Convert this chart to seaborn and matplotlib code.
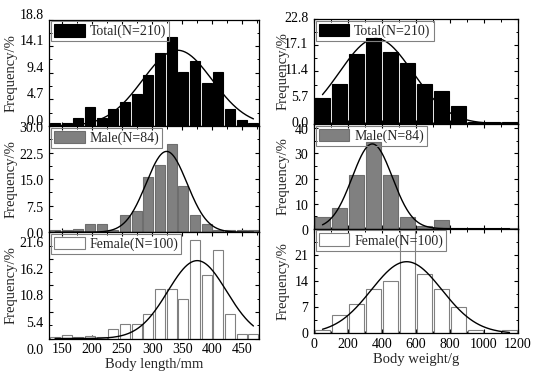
import numpy as np
import pandas as pd
import matplotlib
matplotlib.use('Agg')
import matplotlib.pyplot as plt
import matplotlib.transforms as mtransforms
from matplotlib.patches import Patch
from matplotlib.ticker import MultipleLocator
import seaborn as sns

# histogram bins (left: body length in mm, right: body weight in g)
length_start, length_width, length_nbins = 128.5, 19.44, 18
weight_start, weight_width, weight_nbins = 0, 100, 12

# frequencies (%)
length_total = [0.5, 0.5, 1.4, 3.3, 1.4, 2.9, 4.3, 5.7, 9.0, 12.9, 15.7, 9.5, 11.4, 7.6, 9.5, 2.9, 1.0, 0.5]
length_male = [0.7, 0.7, 0.9, 2.4, 2.4, 0.6, 4.8, 6.0, 15.5, 19.0, 25.0, 13.1, 4.8, 2.4, 0.6, 0.6, 0.6, 0.6]
length_female = [0.4, 0.7, 0.4, 0.6, 0.4, 2.0, 3.0, 3.0, 5.0, 10.0, 10.0, 8.0, 20.0, 13.0, 18.0, 5.0, 1.0, 1.0]
weight_total = [5.7, 8.6, 15.2, 18.6, 15.7, 13.3, 8.6, 7.1, 3.8, 0.5, 0.4, 0.5]
weight_male = [4.8, 8.3, 21.4, 34.5, 21.4, 4.8, 1.2, 3.6, 0.3, 0.3, 0.3, 0.3]
weight_female = [1, 5, 8, 12, 14, 28, 16, 12, 7, 1, 0, 1]

# normal fit curves (mean, sd)
length_fits = [(342, 58), (324, 34), (375, 49)]
weight_fits = [(365, 215), (343, 118), (545, 208)]

group_labels = ['Total(N=210)', 'Male(N=84)', 'Female(N=100)']
fills = ['black', '#808080', 'white']
edges = ['black', '#6e6e6e', '#808080']

length_ylims = [18.8, 30.0, 21.6]
length_yticks = [[0, 4.7, 9.4, 14.1, 18.8], [0, 7.5, 15, 22.5, 30], [0, 5.4, 10.8, 16.2, 21.6]]
weight_ylims = [22.8, 41.8, 28]
weight_yticks = [[0, 5.7, 11.4, 17.1, 22.8], [0, 10, 20, 30, 40], [0, 7, 14, 21, 28]]

sns.set_style('ticks')
plt.rcParams['font.family'] = ['Liberation Serif', 'DejaVu Serif']
plt.rcParams.update({
    'font.size': 10,
    'xtick.direction': 'in', 'ytick.direction': 'in',
    'xtick.top': True, 'ytick.right': True,
    'xtick.color': 'black', 'ytick.color': 'black',
    'axes.edgecolor': 'black', 'axes.linewidth': 0.9,
    'xtick.major.size': 3, 'ytick.major.size': 3,
    'xtick.minor.size': 1.8, 'ytick.minor.size': 1.8,
    'xtick.major.width': 0.8, 'ytick.major.width': 0.8,
    'xtick.minor.width': 0.7, 'ytick.minor.width': 0.7,
})

fig = plt.figure(figsize=(5.5, 3.8), dpi=100)

# panel rectangles in figure fractions
left_x, left_w, left_h = 0.0896, 0.3818, 0.2797
left_bottoms = [0.6689, 0.3889, 0.1092]
right_x, right_w, right_h = 0.5709, 0.3709, 0.2758
right_bottoms = [0.6742, 0.3982, 0.1224]


def draw_panel(ax, start, width, nbins, vals, fit, ylim, yticks, i, fmt):
    bin_edges = start + width * np.arange(nbins + 1)
    centers = bin_edges[:-1] + width / 2
    df = pd.DataFrame({'x': centers, 'pct': vals})
    sns.barplot(data=df, x='x', y='pct', native_scale=True, width=0.85,
                color=fills[i], saturation=1, edgecolor=edges[i],
                linewidth=0.8, errorbar=None, ax=ax)
    mu, sd = fit
    xs = np.linspace(centers[0], centers[-1], 300)
    ys = 100 * width * np.exp(-0.5 * ((xs - mu) / sd) ** 2) / (sd * np.sqrt(2 * np.pi))
    sns.lineplot(x=xs, y=ys, color='black', linewidth=1.0, ax=ax)
    ax.set_xlim(bin_edges[0], bin_edges[-1])
    ax.set_ylim(0, ylim)
    ax.set_yticks(yticks)
    ax.set_yticklabels([fmt(v) for v in yticks])
    ax.yaxis.set_minor_locator(MultipleLocator(yticks[1] / 2))
    ax.set_ylabel('Frequency/%', fontsize=10.5)
    ax.set_xlabel('')
    ax.tick_params(axis='both', which='major', labelsize=10, pad=3)
    ax.tick_params(axis='y', which='major', pad=4)
    handle = Patch(facecolor=fills[i], edgecolor=edges[i], linewidth=0.8)
    leg = ax.legend(handles=[handle], labels=[group_labels[i]], loc='upper left',
                    frameon=True, fancybox=False, edgecolor='#808080',
                    facecolor='none', framealpha=1, borderaxespad=0.12,
                    borderpad=0.22, handlelength=2.2, handleheight=1.0,
                    handletextpad=0.35, fontsize=10)
    leg.get_frame().set_linewidth(0.8)


length_sets = [length_total, length_male, length_female]
weight_sets = [weight_total, weight_male, weight_female]
length_axes = []
weight_axes = []
for i in range(3):
    ax = fig.add_axes([left_x, left_bottoms[i], left_w, left_h])
    draw_panel(ax, length_start, length_width, length_nbins, length_sets[i],
               length_fits[i], length_ylims[i], length_yticks[i], i, lambda v: f'{v:.1f}')
    ax.set_xticks([150, 200, 250, 300, 350, 400, 450])
    ax.xaxis.set_minor_locator(MultipleLocator(25))
    ax.yaxis.set_label_coords(-0.15, 0.5)
    length_axes.append(ax)

    ax = fig.add_axes([right_x, right_bottoms[i], right_w, right_h])
    fmt = (lambda v: f'{v:.1f}') if i == 0 else (lambda v: f'{v:g}')
    draw_panel(ax, weight_start, weight_width, weight_nbins, weight_sets[i],
               weight_fits[i], weight_ylims[i], weight_yticks[i], i, fmt)
    ax.set_xticks([0, 200, 400, 600, 800, 1000, 1200])
    ax.xaxis.set_minor_locator(MultipleLocator(100))
    ax.yaxis.set_label_coords(-0.118, 0.5)
    weight_axes.append(ax)

for ax in length_axes[:2] + weight_axes[:2]:
    ax.tick_params(axis='x', labelbottom=False)

# top label of the lower right panel is not shown
weight_axes[2].get_yticklabels()[-1].set_visible(False)

length_axes[2].set_xlabel('Body length/mm', fontsize=10.5, labelpad=2)
weight_axes[2].set_xlabel('Body weight/g', fontsize=10.5, labelpad=2)

# the y tick labels sit a little off their ticks in the original
for ax, dy in zip(length_axes + weight_axes, [-6, 1, 10, -2, 1, 0]):
    off = mtransforms.ScaledTranslation(0, -dy / 100, fig.dpi_scale_trans)
    for t in ax.yaxis.get_major_ticks():
        t.label1.set_transform(t.label1.get_transform() + off)

fig.savefig('out.png', dpi=100)
